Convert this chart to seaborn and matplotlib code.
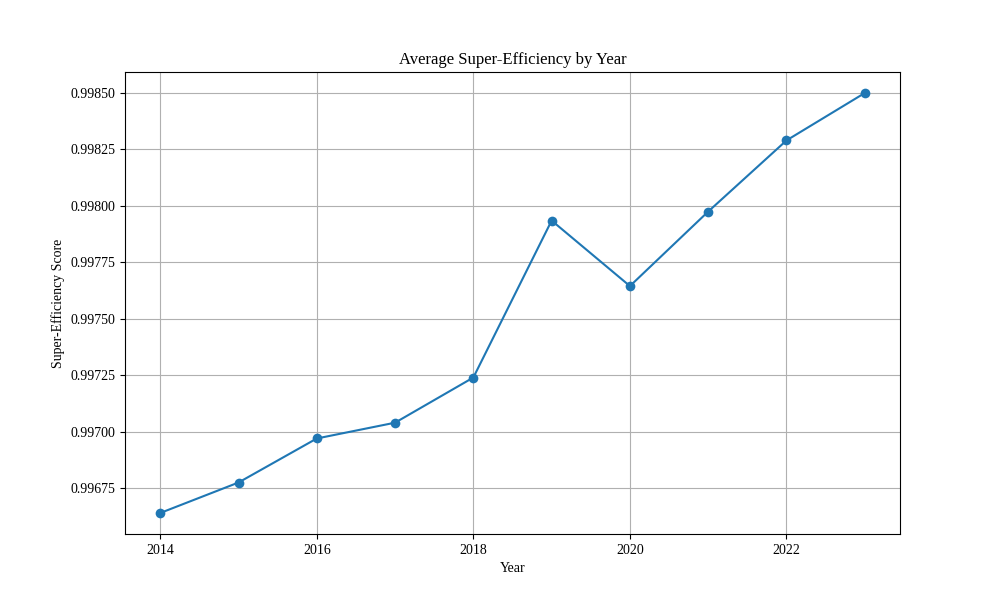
import numpy as np
import pandas as pd
import matplotlib
matplotlib.use("Agg")
import matplotlib.pyplot as plt
import seaborn as sns

# average super-efficiency per year
years = [2014, 2015, 2016, 2017, 2018, 2019, 2020, 2021, 2022, 2023]
scores = [0.99664, 0.996775, 0.99697, 0.99704, 0.99724,
          0.997935, 0.997645, 0.997975, 0.99829, 0.99850]

df = pd.DataFrame({'Year': years, 'Score': scores})

sns.set_style('ticks')
plt.rcParams['font.family'] = ['Liberation Serif', 'DejaVu Serif']
for k in ['text.color', 'axes.labelcolor', 'xtick.color', 'ytick.color']:
    plt.rcParams[k] = 'black'

fig, ax = plt.subplots(figsize=(10, 6), dpi=100)
sns.lineplot(data=df, x='Year', y='Score', marker='o', markersize=7,
             markeredgewidth=0, color='#1f77b4', linewidth=1.5, ax=ax)
ax.set_title('Average Super-Efficiency by Year')
ax.set_xlabel('Year')
ax.set_ylabel('Super-Efficiency Score')
ax.set_yticks([0.99675, 0.99700, 0.99725, 0.99750, 0.99775, 0.99800, 0.99825, 0.99850])
ax.yaxis.set_major_formatter(matplotlib.ticker.FormatStrFormatter('%.5f'))
ax.grid(True, color='#b0b0b0', linewidth=0.8)
for s in ax.spines.values():
    s.set_visible(True)
    s.set_color('black')
    s.set_linewidth(0.8)

plt.savefig('out.png', dpi=100)
